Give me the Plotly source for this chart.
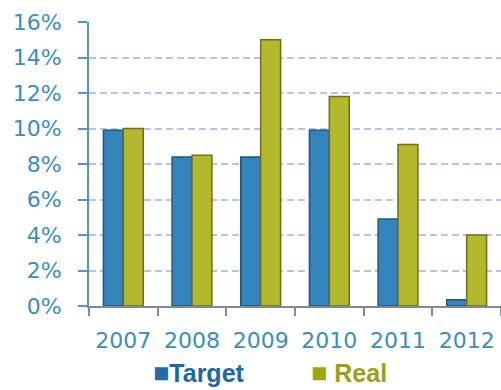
import plotly.graph_objects as go

years = ["2007", "2008", "2009", "2010", "2011", "2012"]
target = [9.9, 8.4, 8.4, 9.9, 4.9, 0.35]
real = [10.0, 8.5, 15.0, 11.8, 9.1, 4.0]
y_ticks = [0, 2, 4, 6, 8, 10, 12, 14, 16]
y_tick_text = [f"{v}%" for v in y_ticks]

fig = go.Figure()
fig.add_trace(go.Bar(name="Target", x=years, y=target,
                     marker=dict(color="#3384BD", line=dict(color="#1E5680", width=1.5))))
fig.add_trace(go.Bar(name="Real", x=years, y=real,
                     marker=dict(color="#B3B82C", line=dict(color="#6C6F1E", width=1.5))))

fig.update_layout(
    width=501, height=390,
    margin=dict(l=89, r=0, t=22, b=84),
    paper_bgcolor="white", plot_bgcolor="white",
    barmode="group", bargap=0.42, bargroupgap=0.0,
    showlegend=False,
    font=dict(family="DejaVu Sans", color="#3A8DC0"),
)
fig.update_yaxes(
    range=[0, 16], tickvals=y_ticks, ticktext=y_tick_text,
    showgrid=True, gridcolor="#B7C3EA", griddash="7px,4px", gridwidth=2,
    showline=True, linecolor="#5B93C0", linewidth=2,
    ticks="outside", ticklen=9, tickcolor="#5B93C0", tickwidth=2,
    ticklabelstandoff=12,
    tickfont=dict(size=22, color="#3A8DC0"),
    zeroline=False,
)
fig.update_xaxes(
    showline=True, linecolor="#808A94", linewidth=2,
    ticks="outside", ticklen=8, tickcolor="#808A94", tickwidth=2,
    tickson="boundaries", ticklabelstandoff=14,
    tickfont=dict(size=22, color="#3A8DC0"),
)
fig.add_annotation(xref="paper", yref="paper", x=0.15, y=-0.235, xanchor="left", yanchor="middle",
                   text="<span style='color:#1F6EA8;font-size:27px'>■</span><b>Target</b>", showarrow=False,
                   font=dict(family="Liberation Sans", size=25, color="#1A68A5"))
fig.add_annotation(xref="paper", yref="paper", x=0.535, y=-0.235, xanchor="left", yanchor="middle",
                   text="<span style='color:#9EA614;font-size:27px'>■</span> <b>Real</b>", showarrow=False,
                   font=dict(family="Liberation Sans", size=25, color="#98A118"))

fig.write_html("out.html")
